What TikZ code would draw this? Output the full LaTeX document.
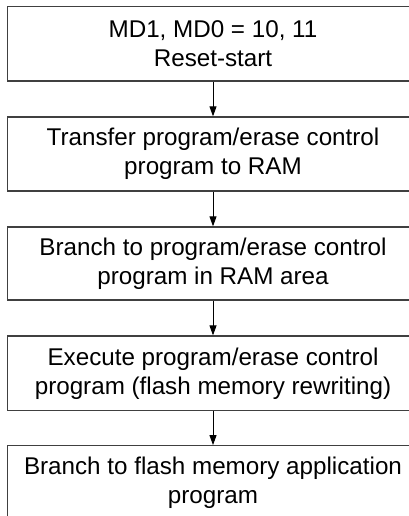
\documentclass[tikz,border=0pt]{standalone}
\usepackage{fontspec}
\setmainfont{Liberation Sans}
\usetikzlibrary{arrows.meta}
\tikzset{
  stepbox/.style={draw=black!75, line width=1.3pt, minimum width=411pt, inner sep=0pt,
    align=center, font=\fontsize{24.2}{29}\selectfont, text=black},
  flowarrow/.style={draw=black, line width=0.9pt, -{Triangle[length=10pt,width=7pt]}}
}
\begin{document}
\begin{tikzpicture}[x=1pt,y=-1pt]
\useasboundingbox (0,0) rectangle (409,516);
\clip (0,0) rectangle (409,516);
\node[stepbox, minimum height=74.3pt] (b1) at (213,43.9) {MD1, MD0 = 10, 11\\Reset-start};
\node[stepbox, minimum height=74pt] (b2) at (213,154) {Transfer program/erase control\\program to RAM};
\node[stepbox, minimum height=73pt] (b3) at (213,263.5) {Branch to program/erase control\\program in RAM area};
\node[stepbox, minimum height=74.5pt] (b4) at (213,373.3) {Execute program/erase control\\program (flash memory rewriting)};
\node[stepbox, minimum height=74.5pt] (b5) at (213,483) {Branch to flash memory application\\program};
\draw[flowarrow] (b1.south) -- (b2.north);
\draw[flowarrow] (b2.south) -- (b3.north);
\draw[flowarrow] (b3.south) -- (b4.north);
\draw[flowarrow] (b4.south) -- (b5.north);
\end{tikzpicture}
\end{document}
